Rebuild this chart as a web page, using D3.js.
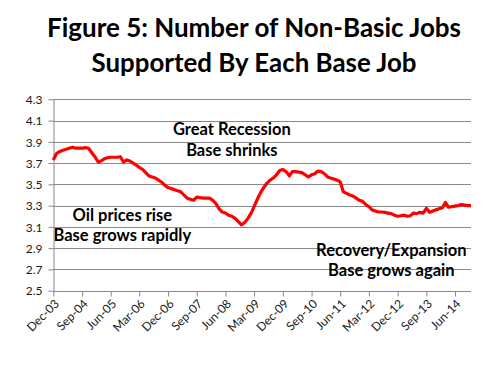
<!DOCTYPE html>
<html>
<head>
<meta charset="utf-8">
<script src="https://cdnjs.cloudflare.com/ajax/libs/d3/7.8.5/d3.min.js"></script>
<style>
	body { margin: 0; background: #fff; }
	svg { display: block; }
	.tick-label { font-family: Lato, "Open Sans", sans-serif; font-size: 12px; fill: #1a1a1a; }
	.note { font-family: Lato, "Open Sans", sans-serif; font-size: 16.5px; font-weight: bold; fill: #000; }
	.title { font-family: Lato, "Open Sans", sans-serif; font-size: 26px; font-weight: bold; fill: #000; }
</style>
</head>
<body>
<svg id="chart" width="501" height="378"></svg>
<script>
// first month of the series, values are one per month from here
var startMonth = new Date(2003, 11, 1);

var ratio = [
	3.73, 3.79, 3.81, 3.82, 3.83, 3.84, 3.85, 3.84, 3.84, 3.84, 3.845, 3.84,
	3.80, 3.76, 3.71, 3.72, 3.74, 3.75, 3.755, 3.755, 3.755, 3.76, 3.71, 3.73,
	3.72, 3.70, 3.68, 3.66, 3.64, 3.61, 3.58, 3.57, 3.56, 3.54, 3.52, 3.49,
	3.47, 3.46, 3.45, 3.44, 3.43, 3.40, 3.37, 3.36, 3.35, 3.38, 3.375, 3.37,
	3.37, 3.37, 3.35, 3.32, 3.27, 3.24, 3.23, 3.21, 3.20, 3.18, 3.15, 3.12,
	3.14, 3.18, 3.23, 3.29, 3.36, 3.42, 3.47, 3.51, 3.54, 3.56, 3.59, 3.63,
	3.64, 3.62, 3.58, 3.62, 3.62, 3.615, 3.61, 3.59, 3.57, 3.59, 3.60, 3.625,
	3.62, 3.60, 3.57, 3.56, 3.55, 3.54, 3.525, 3.43, 3.415, 3.40, 3.39, 3.37,
	3.35, 3.34, 3.31, 3.29, 3.26, 3.25, 3.24, 3.24, 3.237, 3.23, 3.225, 3.21,
	3.20, 3.205, 3.21, 3.20, 3.205, 3.23, 3.225, 3.237, 3.23, 3.275, 3.237, 3.25,
	3.26, 3.27, 3.28, 3.33, 3.285, 3.29, 3.295, 3.30, 3.31, 3.305, 3.30, 3.30
];

var yTicks = [2.5, 2.7, 2.9, 3.1, 3.3, 3.5, 3.7, 3.9, 4.1, 4.3];
var xTickLabels = ["Dec-03", "Sep-04", "Jun-05", "Mar-06", "Dec-06", "Sep-07", "Jun-08",
	"Mar-09", "Dec-09", "Sep-10", "Jun-11", "Mar-12", "Dec-12", "Sep-13", "Jun-14"];
var titleLines = ["Figure 5: Number of Non-Basic Jobs", "Supported By Each Base Job"];

var notes = [
	{ lines: ["Great Recession", "Base shrinks"], date: new Date(2008, 7, 1), value: 3.96 },
	{ lines: ["Oil prices rise", "Base grows rapidly"], date: new Date(2005, 8, 20), value: 3.16 },
	{ lines: ["Recovery/Expansion", "Base grows again"], date: new Date(2012, 9, 1), value: 2.83 }
];

var svg = d3.select("#chart");
var plot = { left: 53.3, right: 471, top: 99.3, bottom: 290.7 };

var points = ratio.map(function(v, i) {
	return { date: d3.timeMonth.offset(startMonth, i), value: v };
});

var x = d3.scaleTime()
	.domain([startMonth, points[points.length - 1].date])
	.range([plot.left, plot.right]);

var y = d3.scaleLinear()
	.domain([2.5, 4.3])
	.range([plot.bottom, plot.top]);

var xTicks = xTickLabels.map(function(s) { return d3.timeParse("%b-%y")(s); });

// gridlines
svg.append("g")
	.selectAll("line")
	.data(yTicks.slice(1))
	.enter().append("line")
	.attr("x1", plot.left).attr("x2", plot.right)
	.attr("y1", function(d) { return Math.round(y(d)) + 0.5; })
	.attr("y2", function(d) { return Math.round(y(d)) + 0.5; })
	.attr("stroke", "#888").attr("stroke-width", 1);

// y axis
var yAxis = svg.append("g")
	.attr("transform", "translate(" + (Math.round(plot.left) + 0.5) + ",0)")
	.call(d3.axisLeft(y).tickValues(yTicks).tickFormat(d3.format(".1f")).tickSize(5).tickSizeOuter(0));
yAxis.select(".domain").attr("stroke", "#888");
yAxis.selectAll(".tick line").attr("stroke", "#888");
yAxis.selectAll(".tick text").attr("class", "tick-label").attr("x", -11).attr("dy", "0.35em");

// x axis
var xAxis = svg.append("g")
	.attr("transform", "translate(0," + (Math.round(plot.bottom) + 0.5) + ")")
	.call(d3.axisBottom(x).tickValues(xTicks).tickFormat(d3.timeFormat("%b-%y")).tickSize(5).tickSizeOuter(0));
xAxis.select(".domain").attr("d", "M" + plot.left + ",0H" + plot.right).attr("stroke", "#888");
xAxis.selectAll(".tick line").attr("stroke", "#888");
xAxis.selectAll(".tick text")
	.attr("class", "tick-label")
	.attr("text-anchor", "end")
	.attr("x", 0).attr("y", 0).attr("dy", 0)
	.attr("transform", "translate(6,13) rotate(-45)");

// the series
var line = d3.line()
	.x(function(d) { return x(d.date); })
	.y(function(d) { return y(d.value); });

svg.append("path")
	.datum(points)
	.attr("d", line)
	.attr("fill", "none")
	.attr("stroke", "#ff0000")
	.attr("stroke-width", 3.2)
	.attr("stroke-linejoin", "round");

// annotations
notes.forEach(function(n) {
	var t = svg.append("text")
		.attr("class", "note")
		.attr("text-anchor", "middle")
		.attr("x", x(n.date))
		.attr("y", y(n.value));
	n.lines.forEach(function(s, i) {
		t.append("tspan").attr("x", x(n.date)).attr("dy", i ? 20.5 : 0).text(s);
	});
});

// title, stretched to the width of the original lines
var titleWidths = [414, 325];
svg.append("g").selectAll("text")
	.data(titleLines)
	.enter().append("text")
	.attr("class", "title")
	.attr("text-anchor", "middle")
	.attr("x", 254)
	.attr("y", function(d, i) { return 37 + i * 35; })
	.attr("textLength", function(d, i) { return titleWidths[i]; })
	.attr("lengthAdjust", "spacingAndGlyphs")
	.text(function(d) { return d; });
</script>
</body>
</html>
